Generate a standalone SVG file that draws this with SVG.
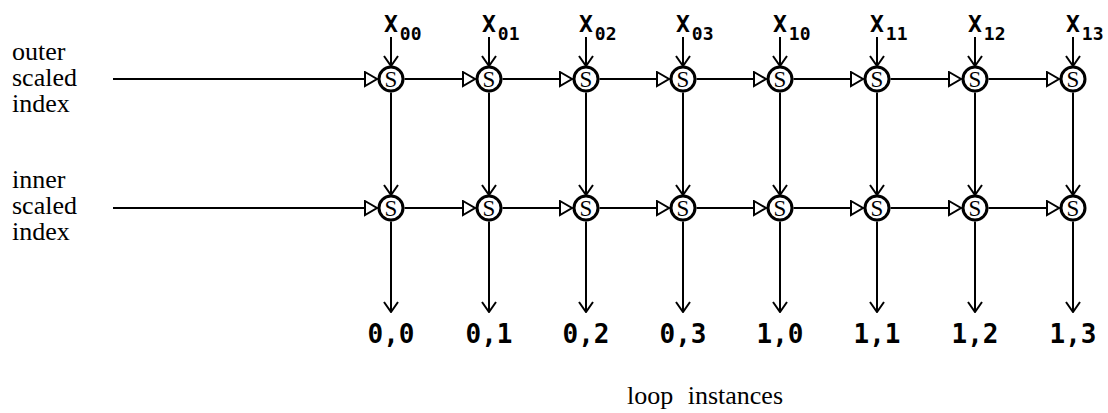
<svg xmlns="http://www.w3.org/2000/svg" width="1108" height="413" viewBox="0 0 1108 413">
<style>
.bg{fill:#fff}
.ln{stroke:#000;stroke-width:2;fill:none}
.h{marker-end:url(#tri)}
.v{marker-end:url(#chev)}
.node circle{fill:#fff;stroke:#000;stroke-width:3}
.node text{font-family:"Liberation Serif",serif;font-size:23px;text-anchor:middle}
.lbl{font-family:"Liberation Serif",serif;font-size:26px}
.xl{font-family:"DejaVu Sans Mono",monospace;font-weight:bold;font-size:23px}
.xl tspan{font-size:18px}
.out{font-family:"DejaVu Sans Mono",monospace;font-weight:bold;font-size:26px;text-anchor:middle}
</style>
<defs>
<marker id="tri" markerUnits="userSpaceOnUse" viewBox="0 0 15 17" refX="14" refY="8.5" markerWidth="15" markerHeight="17" orient="auto">
<path d="M1.5,1.5 L13.5,8.5 L1.5,15.5 Z" fill="#fff" stroke="#000" stroke-width="2"/>
</marker>
<marker id="chev" markerUnits="userSpaceOnUse" viewBox="0 0 12 16" refX="11" refY="8" markerWidth="12" markerHeight="16" orient="auto">
<path d="M1,1 L11,8 L1,15" fill="none" stroke="#000" stroke-width="2"/>
</marker>
</defs>
<rect class="bg" width="1108" height="413"/>

<g id="labels">
<text class="lbl" x="12" y="60">outer</text>
<text class="lbl" x="12" y="86">scaled</text>
<text class="lbl" x="12" y="112">index</text>
<text class="lbl" x="12" y="188">inner</text>
<text class="lbl" x="12" y="214">scaled</text>
<text class="lbl" x="12" y="240">index</text>
<text class="lbl" x="627" y="404" word-spacing="8">loop instances</text>
</g>

<g id="connectors">
<line class="ln h" x1="113" y1="79" x2="377.5" y2="79"/>
<line class="ln h" x1="404.5" y1="79" x2="475.5" y2="79"/>
<line class="ln h" x1="502.5" y1="79" x2="572.5" y2="79"/>
<line class="ln h" x1="599.5" y1="79" x2="669.5" y2="79"/>
<line class="ln h" x1="696.5" y1="79" x2="766.5" y2="79"/>
<line class="ln h" x1="793.5" y1="79" x2="863.5" y2="79"/>
<line class="ln h" x1="890.5" y1="79" x2="961.5" y2="79"/>
<line class="ln h" x1="988.5" y1="79" x2="1059.5" y2="79"/>

<line class="ln h" x1="113" y1="208" x2="377.5" y2="208"/>
<line class="ln h" x1="404.5" y1="208" x2="475.5" y2="208"/>
<line class="ln h" x1="502.5" y1="208" x2="572.5" y2="208"/>
<line class="ln h" x1="599.5" y1="208" x2="669.5" y2="208"/>
<line class="ln h" x1="696.5" y1="208" x2="766.5" y2="208"/>
<line class="ln h" x1="793.5" y1="208" x2="863.5" y2="208"/>
<line class="ln h" x1="890.5" y1="208" x2="961.5" y2="208"/>
<line class="ln h" x1="988.5" y1="208" x2="1059.5" y2="208"/>

<line class="ln v" x1="391" y1="37" x2="391" y2="66"/>
<line class="ln v" x1="489" y1="37" x2="489" y2="66"/>
<line class="ln v" x1="586" y1="37" x2="586" y2="66"/>
<line class="ln v" x1="683" y1="37" x2="683" y2="66"/>
<line class="ln v" x1="780" y1="37" x2="780" y2="66"/>
<line class="ln v" x1="877" y1="37" x2="877" y2="66"/>
<line class="ln v" x1="975" y1="37" x2="975" y2="66"/>
<line class="ln v" x1="1073" y1="37" x2="1073" y2="66"/>

<line class="ln v" x1="391" y1="92.5" x2="391" y2="195"/>
<line class="ln v" x1="489" y1="92.5" x2="489" y2="195"/>
<line class="ln v" x1="586" y1="92.5" x2="586" y2="195"/>
<line class="ln v" x1="683" y1="92.5" x2="683" y2="195"/>
<line class="ln v" x1="780" y1="92.5" x2="780" y2="195"/>
<line class="ln v" x1="877" y1="92.5" x2="877" y2="195"/>
<line class="ln v" x1="975" y1="92.5" x2="975" y2="195"/>
<line class="ln v" x1="1073" y1="92.5" x2="1073" y2="195"/>

<line class="ln v" x1="391" y1="221.5" x2="391" y2="312"/>
<line class="ln v" x1="489" y1="221.5" x2="489" y2="312"/>
<line class="ln v" x1="586" y1="221.5" x2="586" y2="312"/>
<line class="ln v" x1="683" y1="221.5" x2="683" y2="312"/>
<line class="ln v" x1="780" y1="221.5" x2="780" y2="312"/>
<line class="ln v" x1="877" y1="221.5" x2="877" y2="312"/>
<line class="ln v" x1="975" y1="221.5" x2="975" y2="312"/>
<line class="ln v" x1="1073" y1="221.5" x2="1073" y2="312"/>
</g>

<g id="inputs">
<text class="xl" x="384" y="32">X<tspan dx="2" dy="8">00</tspan></text>
<text class="xl" x="482" y="32">X<tspan dx="2" dy="8">01</tspan></text>
<text class="xl" x="579" y="32">X<tspan dx="2" dy="8">02</tspan></text>
<text class="xl" x="676" y="32">X<tspan dx="2" dy="8">03</tspan></text>
<text class="xl" x="773" y="32">X<tspan dx="2" dy="8">10</tspan></text>
<text class="xl" x="870" y="32">X<tspan dx="2" dy="8">11</tspan></text>
<text class="xl" x="968" y="32">X<tspan dx="2" dy="8">12</tspan></text>
<text class="xl" x="1066" y="32">X<tspan dx="2" dy="8">13</tspan></text>
</g>

<g id="outer-row">
<g id="o0" class="node"><circle cx="391" cy="79" r="12"/><text x="391" y="87">S</text></g>
<g id="o1" class="node"><circle cx="489" cy="79" r="12"/><text x="489" y="87">S</text></g>
<g id="o2" class="node"><circle cx="586" cy="79" r="12"/><text x="586" y="87">S</text></g>
<g id="o3" class="node"><circle cx="683" cy="79" r="12"/><text x="683" y="87">S</text></g>
<g id="o4" class="node"><circle cx="780" cy="79" r="12"/><text x="780" y="87">S</text></g>
<g id="o5" class="node"><circle cx="877" cy="79" r="12"/><text x="877" y="87">S</text></g>
<g id="o6" class="node"><circle cx="975" cy="79" r="12"/><text x="975" y="87">S</text></g>
<g id="o7" class="node"><circle cx="1073" cy="79" r="12"/><text x="1073" y="87">S</text></g>
</g>

<g id="inner-row">
<g id="i0" class="node"><circle cx="391" cy="208" r="12"/><text x="391" y="216">S</text></g>
<g id="i1" class="node"><circle cx="489" cy="208" r="12"/><text x="489" y="216">S</text></g>
<g id="i2" class="node"><circle cx="586" cy="208" r="12"/><text x="586" y="216">S</text></g>
<g id="i3" class="node"><circle cx="683" cy="208" r="12"/><text x="683" y="216">S</text></g>
<g id="i4" class="node"><circle cx="780" cy="208" r="12"/><text x="780" y="216">S</text></g>
<g id="i5" class="node"><circle cx="877" cy="208" r="12"/><text x="877" y="216">S</text></g>
<g id="i6" class="node"><circle cx="975" cy="208" r="12"/><text x="975" y="216">S</text></g>
<g id="i7" class="node"><circle cx="1073" cy="208" r="12"/><text x="1073" y="216">S</text></g>
</g>

<g id="outputs">
<text class="out" x="391" y="343">0,0</text>
<text class="out" x="489" y="343">0,1</text>
<text class="out" x="586" y="343">0,2</text>
<text class="out" x="683" y="343">0,3</text>
<text class="out" x="780" y="343">1,0</text>
<text class="out" x="877" y="343">1,1</text>
<text class="out" x="975" y="343">1,2</text>
<text class="out" x="1073" y="343">1,3</text>
</g>
</svg>
